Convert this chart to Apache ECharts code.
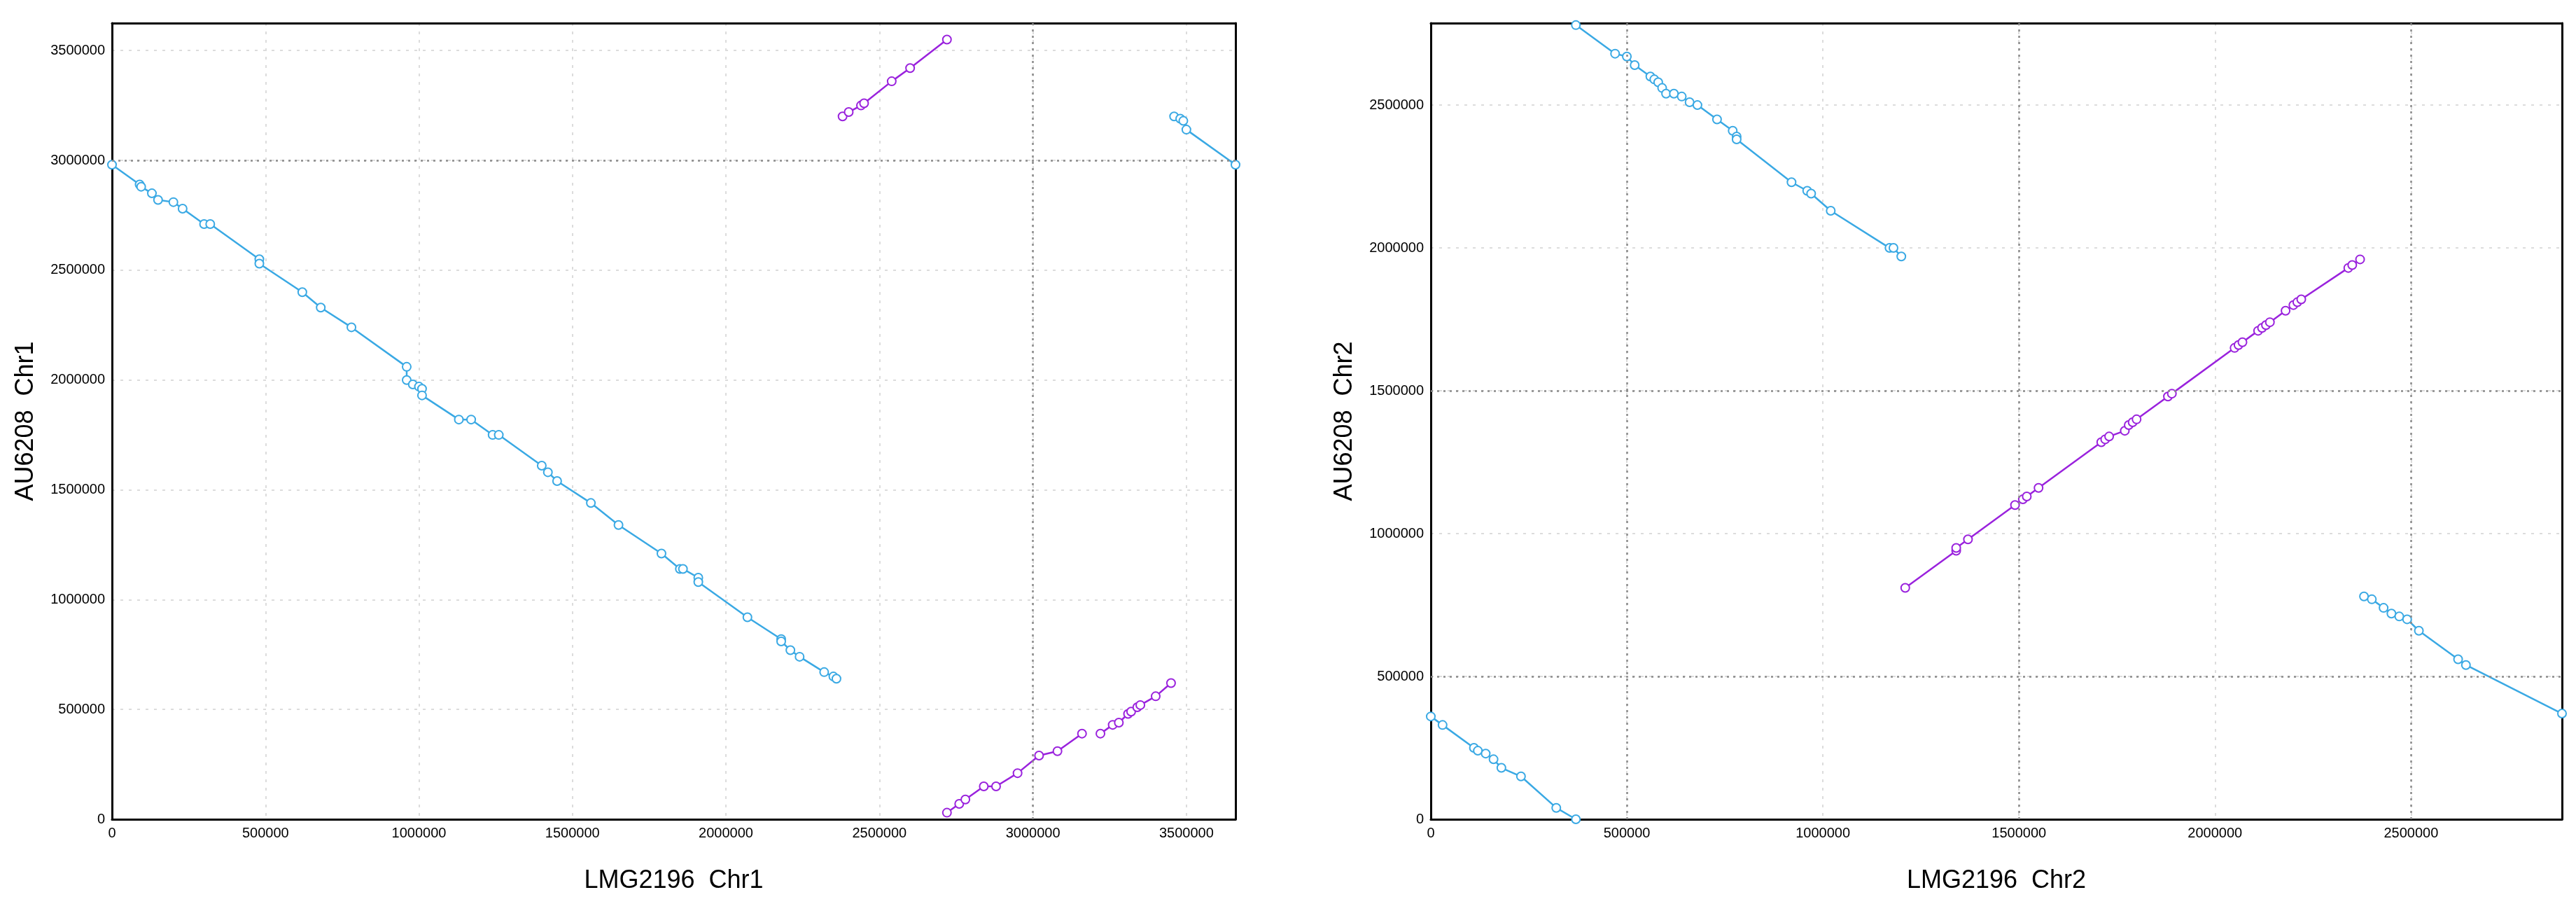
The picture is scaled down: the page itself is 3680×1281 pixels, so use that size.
<!DOCTYPE html>
<html><head><meta charset="utf-8">
<script src="https://cdn.jsdelivr.net/npm/echarts@6/dist/echarts.min.js"></script>
<style>html,body{margin:0;padding:0;background:#fff}#c{width:3680px;height:1281px}</style>
</head><body><div id="c"></div>
<script>
const chr1Blue = [[0,2980000],[90000,2890000],[95000,2880000],[130000,2850000],[150000,2820000],[200000,2810000],[230000,2780000],[300000,2710000],[320000,2710000],[480000,2550000],[480000,2530000],[620000,2400000],[680000,2330000],[780000,2240000],[960000,2060000],[960000,2000000],[980000,1980000],[1000000,1970000],[1010000,1960000],[1010000,1930000],[1130000,1820000],[1170000,1820000],[1240000,1750000],[1260000,1750000],[1400000,1610000],[1420000,1580000],[1450000,1540000],[1560000,1440000],[1650000,1340000],[1790000,1210000],[1850000,1140000],[1860000,1140000],[1910000,1100000],[1910000,1080000],[2070000,920000],[2180000,820000],[2180000,810000],[2210000,770000],[2240000,740000],[2320000,670000],[2350000,650000],[2360000,640000]];
const chr1Blue2 = [[3460000,3200000],[3480000,3190000],[3490000,3180000],[3500000,3140000],[3660000,2980000]];
const chr1Purple1 = [[2380000,3200000],[2400000,3220000],[2440000,3250000],[2450000,3260000],[2540000,3360000],[2600000,3420000],[2720000,3550000]];
const chr1Purple2 = [[2720000,30000],[2760000,70000],[2780000,90000],[2840000,150000],[2880000,150000],[2950000,210000],[3020000,290000],[3080000,310000],[3160000,390000]];
const chr1Purple3 = [[3220000,390000],[3260000,430000],[3280000,440000],[3310000,480000],[3320000,490000],[3340000,510000],[3350000,520000],[3400000,560000],[3450000,620000]];
const chr2Blue1 = [[370000,2780000],[470000,2680000],[500000,2670000],[520000,2640000],[560000,2600000],[570000,2590000],[580000,2580000],[590000,2560000],[600000,2540000],[620000,2540000],[640000,2530000],[660000,2510000],[680000,2500000],[730000,2450000],[770000,2410000],[780000,2390000],[780000,2380000],[920000,2230000],[960000,2200000],[970000,2190000],[1020000,2130000],[1170000,2000000],[1180000,2000000],[1200000,1970000]];
const chr2Purple = [[1210000,810000],[1340000,940000],[1340000,950000],[1370000,980000],[1490000,1100000],[1510000,1120000],[1520000,1130000],[1550000,1160000],[1710000,1320000],[1720000,1330000],[1730000,1340000],[1770000,1360000],[1780000,1380000],[1790000,1390000],[1800000,1400000],[1880000,1480000],[1890000,1490000],[2050000,1650000],[2060000,1660000],[2070000,1670000],[2110000,1710000],[2120000,1720000],[2130000,1730000],[2140000,1740000],[2180000,1780000],[2200000,1800000],[2210000,1810000],[2220000,1820000],[2340000,1930000],[2350000,1940000],[2370000,1960000]];
const chr2Blue2 = [[2380000,780000],[2400000,770000],[2430000,740000],[2450000,720000],[2470000,710000],[2490000,700000],[2520000,660000],[2620000,560000],[2640000,540000],[2885000,370000]];
const chr2Blue3 = [[0,360000],[30000,330000],[110000,250000],[120000,240000],[140000,230000],[160000,210000],[180000,180000],[230000,150000],[320000,40000],[370000,0]];
const xTitles = ['LMG2196  Chr1','LMG2196  Chr2'];
const yTitles = ['AU6208  Chr1','AU6208  Chr2'];
const xMax = [3660000, 2885000];
const yMax = [3625000, 2787000];
const darkX = [[3000000],[500000,1500000,2500000]];
const darkY = [[3000000],[500000,1500000]];

const BLUE='#3aa9e4', PURP='#9a22dd';
const font='Liberation Sans';
function ax(i,max,title,isX){
  return {type:'value',gridIndex:i,min:0,max:max,interval:500000,
    name:title,nameLocation:'middle',nameGap:isX?70:105,
    nameTextStyle:{fontFamily:font,fontSize:36,color:'#000'},
    axisLine:{show:true,onZero:false,lineStyle:{color:'#000',width:3}},
    axisTick:{show:false},
    axisLabel:{fontFamily:font,fontSize:20,color:'#000',margin:10,showMaxLabel:false,formatter:v=>String(v)},
    splitLine:{show:true,lineStyle:{color:'#dcdcdc',type:[4,8],width:2}}};
}
function frame(i,max,pos){
  return {type:'value',gridIndex:i,min:0,max:max,position:pos,
    axisLine:{show:true,onZero:false,lineStyle:{color:'#000',width:3}},
    axisTick:{show:false},axisLabel:{show:false},splitLine:{show:false}};
}
function ser(i,data,color){
  return {type:'line',xAxisIndex:i,yAxisIndex:i,data:data,symbol:'emptyCircle',symbolSize:12,
    showAllSymbol:true,lineStyle:{color:color,width:2.5},itemStyle:{color:color,borderWidth:2.5},
    animation:false,z:3};
}
function marks(i){
  const d=[];
  darkX[i].forEach(v=>d.push({xAxis:v}));
  darkY[i].forEach(v=>d.push({yAxis:v}));
  return {type:'line',xAxisIndex:i,yAxisIndex:i,data:[],silent:true,
    markLine:{symbol:'none',label:{show:false},animation:false,
      lineStyle:{color:'#8a8a8a',type:[3,6],width:2.5},data:d}};
}
const opt={
  animation:false,
  grid:[{left:160,top:33,width:1605,height:1140},
        {left:2044,top:33,width:1616,height:1140}],
  xAxis:[ax(0,xMax[0],xTitles[0],true),ax(1,xMax[1],xTitles[1],true),frame(0,xMax[0],'top'),frame(1,xMax[1],'top')],
  yAxis:[ax(0,yMax[0],yTitles[0],false),ax(1,yMax[1],yTitles[1],false),frame(0,yMax[0],'right'),frame(1,yMax[1],'right')],
  series:[marks(0),marks(1),
    ser(0,chr1Blue,BLUE),ser(0,chr1Blue2,BLUE),ser(0,chr1Purple1,PURP),ser(0,chr1Purple2,PURP),ser(0,chr1Purple3,PURP),
    ser(1,chr2Blue1,BLUE),ser(1,chr2Purple,PURP),ser(1,chr2Blue2,BLUE),ser(1,chr2Blue3,BLUE)]
};
echarts.init(document.getElementById('c')).setOption(opt);
</script></body></html>
